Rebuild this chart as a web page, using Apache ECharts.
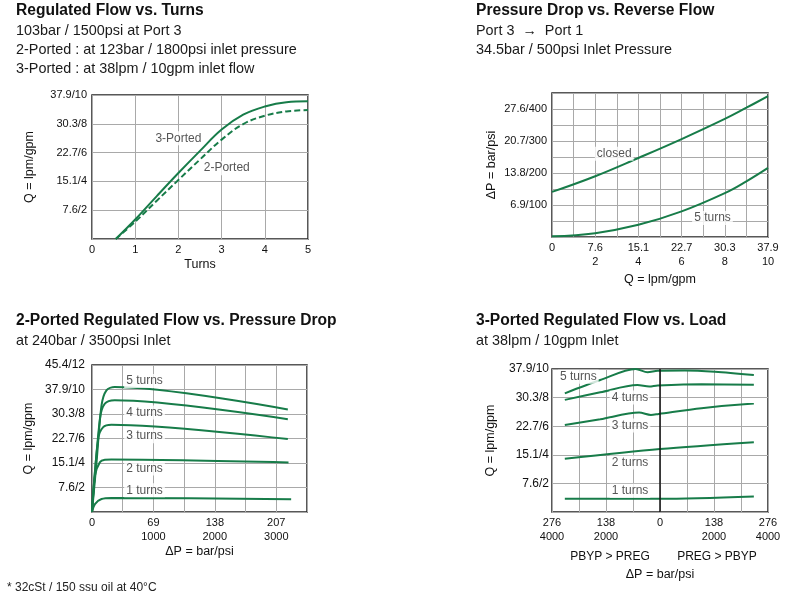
<!DOCTYPE html>
<html>
<head>
<meta charset="utf-8">
<script src="https://cdn.jsdelivr.net/npm/echarts@6/dist/echarts.min.js"></script>
<style>html,body{margin:0;padding:0;background:#fff;}#c{width:791px;height:601px;}</style>
</head>
<body>
<div id="c"></div>
<script>
// ---------- Panel 1: Regulated Flow vs. Turns (x: turns, y: gpm) ----------
const p1Turns   = [0.55, 1, 1.5, 2, 2.5, 3, 3.5, 4, 4.5, 5];
const p1Ported3 = [0, 1.35, 2.98, 4.58, 6.12, 7.6, 8.63, 9.2, 9.5, 9.56];
const p1Ported2 = [0, 1.2, 2.66, 4.1, 5.52, 6.9, 7.98, 8.56, 8.86, 8.95];
const p1XTickVals = [0, 1, 2, 3, 4, 5];
const p1XTickLabels = ['0', '1', '2', '3', '4', '5'];
const p1YTickVals = [2, 4, 6, 8, 10];
const p1YTickLabels = ['7.6/2', '15.1/4', '22.7/6', '30.3/8', '37.9/10'];
const p1Labels = [[2.0, 7.0, '3-Ported'], [3.12, 4.92, '2-Ported']];

// ---------- Panel 2: Pressure Drop vs. Reverse Flow (x: gpm, y: psi) ----------
const p2Q       = [0, 2, 4, 6, 8, 9, 10];
const p2Closed  = [141, 190, 247, 306, 369, 404, 440];
const p2Turns5  = [2, 12, 38, 80, 137, 174, 216];
const p2XTickVals = [0, 2, 4, 6, 8, 10];
const p2XTickLabels = ['0', '7.6\n2', '15.1\n4', '22.7\n6', '30.3\n8', '37.9\n10'];
const p2YTickVals = [100, 200, 300, 400];
const p2YTickLabels = ['6.9/100', '13.8/200', '20.7/300', '27.6/400'];
const p2Labels = [[2.88, 260, 'closed'], [7.43, 59, '5 turns']];

// ---------- Panel 3: 2-Ported Regulated Flow vs. Pressure Drop (x: psi, y: gpm) ----------
const p3T5 = [[0, 0], [74, 4.07], [155, 8.7], [235, 9.93], [370, 10.2], [3188, 8.37]];
const p3T4 = [[0, 0], [129, 7.6], [209, 8.84], [370, 9.12], [3188, 7.58]];
const p3T3 = [[0, 0], [101, 5.97], [182, 6.93], [316, 7.12], [3188, 5.95]];
const p3T2 = [[0, 0], [48, 2.98], [129, 4.07], [209, 4.26], [316, 4.28], [3199, 4.04]];
const p3T1 = [[0, 0], [48, 0.65], [155, 1.06], [316, 1.15], [3242, 1.04]];
const p3XTickVals = [0, 1000, 2000, 3000];
const p3XTickLabels = ['0', '69\n1000', '138\n2000', '207\n3000'];
const p3YTickVals = [2, 4, 6, 8, 10, 12];
const p3YTickLabels = ['7.6/2', '15.1/4', '22.7/6', '30.3/8', '37.9/10', '45.4/12'];
const p3Labels = [[855, 10.69, '5 turns'], [855, 8.13, '4 turns'], [855, 6.19, '3 turns'], [855, 3.55, '2 turns'], [855, 1.77, '1 turns']];

// ---------- Panel 4: 3-Ported Regulated Flow vs. Load (x: psi, y: gpm) ----------
const p4T5 = [[-3525, 8.3], [-2212, 9.23], [-900, 10.0], [-462, 9.77], [-87, 9.88], [912, 9.9], [2037, 9.81], [3476, 9.58]];
const p4T4 = [[-3525, 7.84], [-2212, 8.37], [-837, 8.88], [-400, 8.77], [-87, 8.84], [1537, 8.93], [3476, 8.9]];
const p4T3 = [[-3525, 6.09], [-2212, 6.49], [-775, 6.95], [-337, 6.79], [-50, 6.86], [1537, 7.26], [3476, 7.58]];
const p4T2 = [[-3525, 3.72], [0, 4.4], [3476, 4.88]];
const p4T1 = [[-3525, 0.93], [0, 0.93], [3476, 1.09]];
const p4XTickVals = [-4000, -2000, 0, 2000, 4000];
const p4XTickLabels = ['276\n4000', '138\n2000', '0', '138\n2000', '276\n4000'];
const p4YTickVals = [2, 4, 6, 8, 10];
const p4YTickLabels = ['7.6/2', '15.1/4', '22.7/6', '30.3/8', '37.9/10'];
const p4Labels = [[-3025, 9.46, '5 turns'], [-1112, 8.0, '4 turns'], [-1112, 6.05, '3 turns'], [-1112, 3.46, '2 turns'], [-1112, 1.49, '1 turns']];

// ---------- Texts ----------
const titles = [
  ['Regulated Flow vs. Turns', 16, 11],
  ['Pressure Drop vs. Reverse Flow', 476, 11],
  ['2-Ported Regulated Flow vs. Pressure Drop', 16, 321],
  ['3-Ported Regulated Flow vs. Load', 476, 321]
];
const subtitles = [
  ['103bar / 1500psi at Port 3', 16, 31],
  ['2-Ported : at 123bar / 1800psi inlet pressure', 16, 50],
  ['3-Ported : at 38lpm / 10gpm inlet flow', 16, 69],
  ['Port 3  \u2192  Port 1', 476, 31],
  ['34.5bar / 500psi Inlet Pressure', 476, 50],
  ['at 240bar / 3500psi Inlet', 16, 341],
  ['at 38lpm / 10gpm Inlet', 476, 341]
];
const footnote = '* 32cSt / 150 ssu oil at 40\u00b0C';
const p4Sides = [['PBYP > PREG', 610, 557], ['PREG > PBYP', 717, 557]];

// ---------- Build ----------
const FONT = "'Liberation Sans', Arial, Helvetica, sans-serif";
const GREEN = '#177c49';
const TXT = '#111';

function grid(left, top, width, height) {
  return { left, top, width, height, show: true, borderColor: '#222', borderWidth: 1.5, backgroundColor: '#fff', containLabel: false };
}
function axis(gi, min, max, interval, vals, labels, margin, fs, extra) {
  return Object.assign({
    type: 'value', gridIndex: gi, min, max, interval,
    axisLine: { show: false }, axisTick: { show: false },
    splitLine: { show: true, lineStyle: { color: '#a9a9a9', width: 1 } },
    nameLocation: 'middle',
    nameTextStyle: { fontSize: 12.5, color: TXT, fontFamily: FONT },
    axisLabel: {
      show: true, showMinLabel: true, showMaxLabel: true, hideOverlap: false,
      fontSize: fs, color: TXT, fontFamily: FONT, lineHeight: 14, margin,
      formatter: v => { const i = vals.findIndex(t => Math.abs(t - v) < 1e-6); return i < 0 ? '' : labels[i]; }
    }
  }, extra || {});
}
function line(xi, data, extra) {
  return Object.assign({
    type: 'line', xAxisIndex: xi, yAxisIndex: xi, data, showSymbol: false, symbol: 'none',
    smooth: 0.4, lineStyle: { color: GREEN, width: 2 }, silent: true, z: 3
  }, extra || {});
}
function labels(xi, arr) {
  return {
    type: 'scatter', xAxisIndex: xi, yAxisIndex: xi, symbolSize: 0, silent: true, z: 4,
    data: arr.map(a => ({ value: [a[0], a[1]], name: a[2] })),
    label: { show: true, position: 'inside', formatter: '{b}', fontSize: 12, color: '#2a2a2a', fontFamily: FONT,
             backgroundColor: '#fff', padding: [1, 2] }
  };
}

const graphic = [];
titles.forEach(t => graphic.push({ type: 'text', x: t[1], y: t[2], silent: true,
  style: { text: t[0], font: 'bold 15.6px ' + FONT, fill: '#111', textVerticalAlign: 'middle', verticalAlign: 'middle' } }));
subtitles.forEach(t => graphic.push({ type: 'text', x: t[1], y: t[2], silent: true,
  style: { text: t[0], font: '14.4px ' + FONT, fill: '#1a1a1a', textVerticalAlign: 'middle', verticalAlign: 'middle' } }));
graphic.push({ type: 'text', x: 7, y: 588, silent: true,
  style: { text: footnote, font: '12px ' + FONT, fill: '#222', textVerticalAlign: 'middle', verticalAlign: 'middle' } });
p4Sides.forEach(t => graphic.push({ type: 'text', x: t[1], y: t[2], silent: true,
  style: { text: t[0], font: '12px ' + FONT, fill: '#111', textAlign: 'center', align: 'center', textVerticalAlign: 'middle', verticalAlign: 'middle' } }));

const option = {
  animation: false,
  backgroundColor: '#fff',
  grid: [grid(92, 95, 216, 144), grid(552, 93, 216, 144), grid(92, 365, 215, 147), grid(552, 369, 216, 143)],
  xAxis: [
    axis(0, 0, 5, 1, p1XTickVals, p1XTickLabels, 4, 11, { name: 'Turns', nameGap: 19 }),
    axis(1, 0, 10, 1, p2XTickVals, p2XTickLabels, 4, 11, { name: 'Q = lpm/gpm', nameGap: 36 }),
    axis(2, 0, 3500, 500, p3XTickVals, p3XTickLabels, 4, 11, { name: '\u0394P = bar/psi', nameGap: 31 }),
    axis(3, -4000, 4000, 1000, p4XTickVals, p4XTickLabels, 4, 11, { name: '\u0394P = bar/psi', nameGap: 56 })
  ],
  yAxis: [
    axis(0, 0, 10, 2, p1YTickVals, p1YTickLabels, 5, 11, { name: 'Q = lpm/gpm', nameGap: 56 }),
    axis(1, 0, 450, 50, p2YTickVals, p2YTickLabels, 5, 11, { name: '\u0394P = bar/psi', nameGap: 54 }),
    axis(2, 0, 12, 2, p3YTickVals, p3YTickLabels, 7, 12, { name: 'Q = lpm/gpm', nameGap: 57 }),
    axis(3, 0, 10, 2, p4YTickVals, p4YTickLabels, 3, 12, { name: 'Q = lpm/gpm', nameGap: 55 })
  ],
  series: [
    line(0, p1Turns.map((x, i) => [x, p1Ported3[i]])),
    line(0, p1Turns.map((x, i) => [x, p1Ported2[i]]), { lineStyle: { color: GREEN, width: 2, type: [6, 3] } }),
    labels(0, p1Labels),
    line(1, p2Q.map((x, i) => [x, p2Closed[i]])),
    line(1, p2Q.map((x, i) => [x, p2Turns5[i]])),
    labels(1, p2Labels),
    line(2, p3T5, { smooth: 0.3 }), line(2, p3T4, { smooth: 0.3 }), line(2, p3T3, { smooth: 0.3 }),
    line(2, p3T2, { smooth: 0.3 }), line(2, p3T1, { smooth: 0.3 }),
    labels(2, p3Labels),
    line(3, p4T5, { smooth: 0.3 }), line(3, p4T4, { smooth: 0.3 }), line(3, p4T3, { smooth: 0.3 }),
    line(3, p4T2, { smooth: 0.3 }),
    line(3, p4T1, { smooth: 0.3, markLine: { symbol: 'none', silent: true, label: { show: false },
      lineStyle: { color: '#111', width: 1.5, type: 'solid' }, data: [{ xAxis: 0 }] } }),
    labels(3, p4Labels)
  ],
  graphic
};
const chart = echarts.init(document.getElementById('c'), null, { renderer: 'canvas' });
chart.setOption(option);
</script>
</body>
</html>
